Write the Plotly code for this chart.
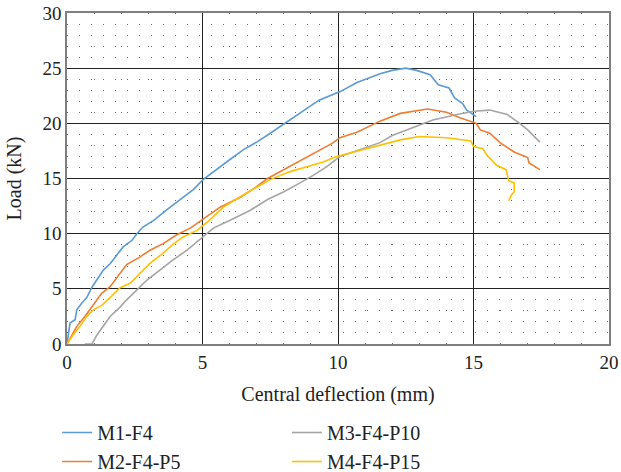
import plotly.graph_objects as go

m1_x = [0, 0.11, 0.3, 0.36, 0.54, 0.73, 0.91, 1.1, 1.34, 1.6, 1.9, 2.07, 2.4, 2.58, 2.8, 3.2, 3.7, 4.17, 4.66, 5.02, 5.53, 6.0, 6.5, 7.0, 7.5, 8.05, 8.5, 8.9, 9.3, 10.1, 10.7, 11.55, 12.0, 12.5, 12.9, 13.4, 13.7, 14.1, 14.3, 14.6, 14.75, 15.1]
m1_y = [0, 1.9, 2.2, 3.1, 3.7, 4.2, 5.1, 5.8, 6.7, 7.3, 8.2, 8.8, 9.4, 10.0, 10.6, 11.2, 12.2, 13.05, 14.0, 14.9, 15.8, 16.7, 17.6, 18.3, 19.1, 20.0, 20.8, 21.4, 22.1, 22.9, 23.7, 24.5, 24.8, 25.0, 24.8, 24.4, 23.5, 23.2, 22.3, 21.8, 21.2, 20.6]

m2_x = [0, 0.36, 0.66, 0.97, 1.28, 1.59, 1.9, 2.2, 2.7, 3.06, 3.55, 4.05, 4.55, 4.9, 5.65, 6.4, 6.9, 7.4, 7.85, 8.5, 9.1, 9.8, 10.07, 10.7, 11.55, 12.3, 13.3, 14.0, 14.5, 15.1, 15.25, 15.6, 16.0, 16.5, 17.0, 17.05, 17.45]
m2_y = [0, 1.6, 2.5, 3.5, 4.6, 5.2, 6.2, 7.2, 7.9, 8.5, 9.1, 9.9, 10.5, 11.1, 12.4, 13.3, 14.1, 15.0, 15.6, 16.5, 17.3, 18.2, 18.7, 19.2, 20.2, 20.9, 21.3, 21.0, 20.5, 20.0, 19.4, 19.1, 18.2, 17.4, 16.9, 16.4, 15.8]

m3_x = [0.66, 0.92, 1.1, 1.34, 1.59, 1.9, 2.2, 2.58, 2.95, 3.43, 3.9, 4.43, 4.9, 5.4, 6.0, 6.75, 7.4, 8.0, 8.6, 9.1, 9.6, 10.07, 10.8, 11.55, 12.0, 13.0, 13.5, 14.4, 15.0, 15.6, 16.25, 16.7, 17.0, 17.45]
m3_y = [0, 0, 0.8, 1.6, 2.5, 3.2, 4.0, 4.9, 5.8, 6.7, 7.6, 8.5, 9.5, 10.5, 11.2, 12.1, 13.1, 13.8, 14.6, 15.3, 16.1, 17.0, 17.6, 18.25, 18.9, 19.8, 20.3, 20.8, 21.1, 21.2, 20.8, 20.0, 19.4, 18.3]

m4_x = [0, 0.22, 0.48, 0.73, 0.97, 1.28, 1.59, 1.96, 2.33, 2.7, 3.06, 3.43, 3.9, 4.28, 4.8, 5.2, 5.77, 6.63, 7.5, 8.2, 8.85, 9.45, 9.95, 10.55, 11.55, 12.3, 13.0, 14.0, 14.9, 15.0, 15.35, 15.5, 15.85, 16.2, 16.3, 16.5, 16.5, 16.4, 16.3]
m4_y = [0, 0.8, 1.6, 2.5, 3.1, 3.5, 4.2, 5.1, 5.5, 6.4, 7.3, 8.0, 9.0, 9.7, 10.3, 11.1, 12.4, 13.7, 14.9, 15.6, 16.1, 16.5, 17.0, 17.4, 18.0, 18.5, 18.8, 18.7, 18.4, 17.9, 17.7, 17.1, 16.2, 15.8, 14.8, 14.6, 13.8, 13.5, 13.0]

names = ["M1-F4", "M2-F4-P5", "M3-F4-P10", "M4-F4-P15"]
colors = ["#5B9BD5", "#ED7D31", "#A5A5A5", "#FFC000"]
legends = ["legend", "legend", "legend2", "legend2"]
series = [(m1_x, m1_y), (m2_x, m2_y), (m3_x, m3_y), (m4_x, m4_y)]

FONT = "Liberation Serif"
fig = go.Figure()
for (xs, ys), n, c, lg in zip(series, names, colors, legends):
    fig.add_trace(go.Scatter(x=xs, y=ys, mode="lines", name=n,
                             line=dict(color=c, width=1.6), legend=lg))

axis_common = dict(showline=True, mirror=True, linecolor="#7f7f7f", linewidth=1.5,
                   showgrid=True, gridcolor="#222222", gridwidth=1, zeroline=False,
                   automargin=False,
                   ticks="", tickfont=dict(family=FONT, size=19, color="#222"))
fig.update_xaxes(range=[0, 20], dtick=5, **axis_common,
                 title=dict(text="Central deflection (mm)", font=dict(family=FONT, size=20, color="#222")),
                 minor=dict(dtick=1, showgrid=True, gridcolor="#666", gridwidth=1, griddash="1px,32px"))
fig.update_yaxes(range=[0, 30], dtick=5, **axis_common,
                 minor=dict(dtick=1, showgrid=True, gridcolor="#666", gridwidth=1, griddash="1px,11px"))

fig.add_annotation(text="Load (kN)", textangle=-90, xref="paper", yref="paper",
                   x=-0.096, y=0.5, xanchor="center", yanchor="middle", showarrow=False,
                   font=dict(family=FONT, size=20, color="#222"))

leg_common = dict(font=dict(family=FONT, size=20, color="#222"), bgcolor="rgba(0,0,0,0)",
                  yanchor="top", xanchor="left", xref="container", yref="container",
                  tracegroupgap=0, itemwidth=30)
fig.update_layout(
    width=621, height=472,
    margin=dict(l=67, r=12, t=13, b=128, autoexpand=False),
    paper_bgcolor="white", plot_bgcolor="white",
    legend=dict(x=0.092, y=0.125, **leg_common),
    legend2=dict(x=0.462, y=0.125, **leg_common),
)
fig.write_html("out.html")
